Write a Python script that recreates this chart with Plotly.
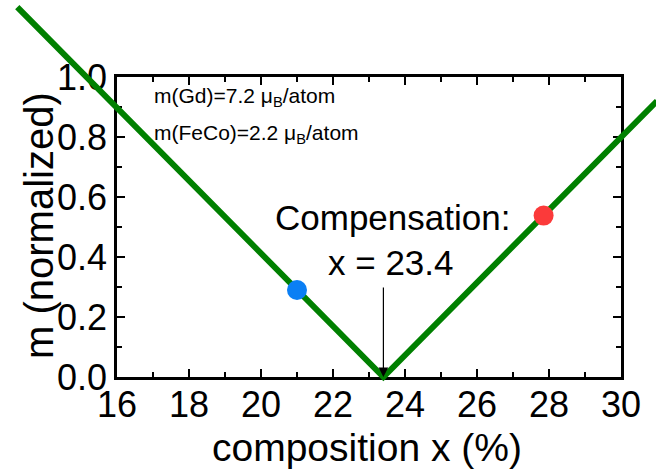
import plotly.graph_objects as go

W, H = 656, 472
# frame of the composition/magnetization axes, in pixels
FRAME_L, FRAME_R, FRAME_T, FRAME_B = 117, 621, 77, 377

x_range = [16, 30]
y_range = [0.0, 1.0]
x_ticks = [16, 18, 20, 22, 24, 26, 28, 30]
y_ticks = [0.0, 0.2, 0.4, 0.6, 0.8, 1.0]
y_ticklabels = ["0.0", "0.2", "0.4", "0.6", "0.8", "1.0"]

# net magnetization vs Gd content (ferrimagnetic V)
comp = [13.23, 23.4, 31.0]
m_norm = [1.233, 0.0, 0.92]

# measured samples
sample_x = [21.0, 27.85]
sample_m = [0.29, 0.538]
sample_colors = ["#0b7ff4", "#fb3a3a"]

x_comp = 23.4

FONT = "Liberation Sans, Arial, sans-serif"

# full-figure companion axes with the same scale, so the curve may run past the frame
px_x = (FRAME_R - FRAME_L) / (x_range[1] - x_range[0])
px_y = (FRAME_B - FRAME_T) / (y_range[1] - y_range[0])
x2_range = [x_range[0] - FRAME_L / px_x, x_range[1] + (W - FRAME_R) / px_x]
y2_range = [y_range[0] - (H - FRAME_B) / px_y, y_range[1] + FRAME_T / px_y]

fig = go.Figure()

fig.add_trace(go.Scatter(
    x=comp, y=m_norm, mode="lines",
    line=dict(color="#008000", width=6),
    xaxis="x2", yaxis="y2", showlegend=False, hoverinfo="skip",
))
fig.add_trace(go.Scatter(
    x=sample_x, y=sample_m, mode="markers",
    marker=dict(color=sample_colors, size=20, line=dict(width=0)),
    xaxis="x2", yaxis="y2", showlegend=False,
))

axis_common = dict(
    showline=True, linecolor="black", linewidth=2.5, mirror="ticks",
    ticks="inside", ticklen=8, tickwidth=2, tickcolor="black",
    showgrid=False, zeroline=False, automargin=False,
)

fig.update_layout(
    width=W, height=H,
    margin=dict(l=0, r=0, t=0, b=0, autoexpand=False),
    paper_bgcolor="white", plot_bgcolor="rgba(0,0,0,0)",
    font=dict(family=FONT, color="black"),
    xaxis=dict(
        domain=[FRAME_L / W, FRAME_R / W], range=x_range,
        tickvals=x_ticks, tickfont=dict(size=36, family=FONT), ticklabelstandoff=-6,
        minor=dict(ticks="inside", ticklen=5, tickwidth=2, tickcolor="black", dtick=1),
        **axis_common,
    ),
    yaxis=dict(
        domain=[(H - FRAME_B) / H, (H - FRAME_T) / H], range=y_range,
        tickvals=y_ticks, ticktext=y_ticklabels, tickfont=dict(size=36, family=FONT),
        minor=dict(ticks="inside", ticklen=5, tickwidth=2, tickcolor="black", dtick=0.1),
        **axis_common,
    ),
    xaxis2=dict(domain=[0, 1], range=x2_range, visible=False, anchor="y2", automargin=False),
    yaxis2=dict(domain=[0, 1], range=y2_range, visible=False, anchor="x2", automargin=False),
)

annotations = [
    dict(text="m(Gd)=7.2 \u03bc<sub>B</sub>/atom", x=16.98, y=0.933,
         xref="x", yref="y", xanchor="left", yanchor="middle",
         showarrow=False, font=dict(size=21)),
    dict(text="m(FeCo)=2.2 \u03bc<sub>B</sub>/atom", x=16.98, y=0.81,
         xref="x", yref="y", xanchor="left", yanchor="middle",
         showarrow=False, font=dict(size=21)),
    dict(text="Compensation:", x=23.66, y=(FRAME_B - 217) / px_y,
         xref="x", yref="y", xanchor="center", yanchor="middle",
         showarrow=False, font=dict(size=35)),
    dict(text=f"x = {x_comp}", x=23.6, y=(FRAME_B - 262) / px_y,
         xref="x", yref="y", xanchor="center", yanchor="middle",
         showarrow=False, font=dict(size=35)),
    dict(text="", x=x_comp, y=0.0, ax=x_comp, ay=0.303,
         xref="x", yref="y", axref="x", ayref="y",
         showarrow=True, arrowhead=2, arrowsize=1.6, arrowwidth=1.2, arrowcolor="black"),
    dict(text="composition x (%)", x=367 / W, y=1 - 447 / H,
         xref="paper", yref="paper", xanchor="center", yanchor="middle",
         showarrow=False, font=dict(size=39)),
    dict(text="m (normalized)", x=39 / W, y=1 - 226 / H, textangle=-90,
         xref="paper", yref="paper", xanchor="center", yanchor="middle",
         showarrow=False, font=dict(size=40)),
]
fig.update_layout(annotations=annotations)

fig.write_html("out.html")
